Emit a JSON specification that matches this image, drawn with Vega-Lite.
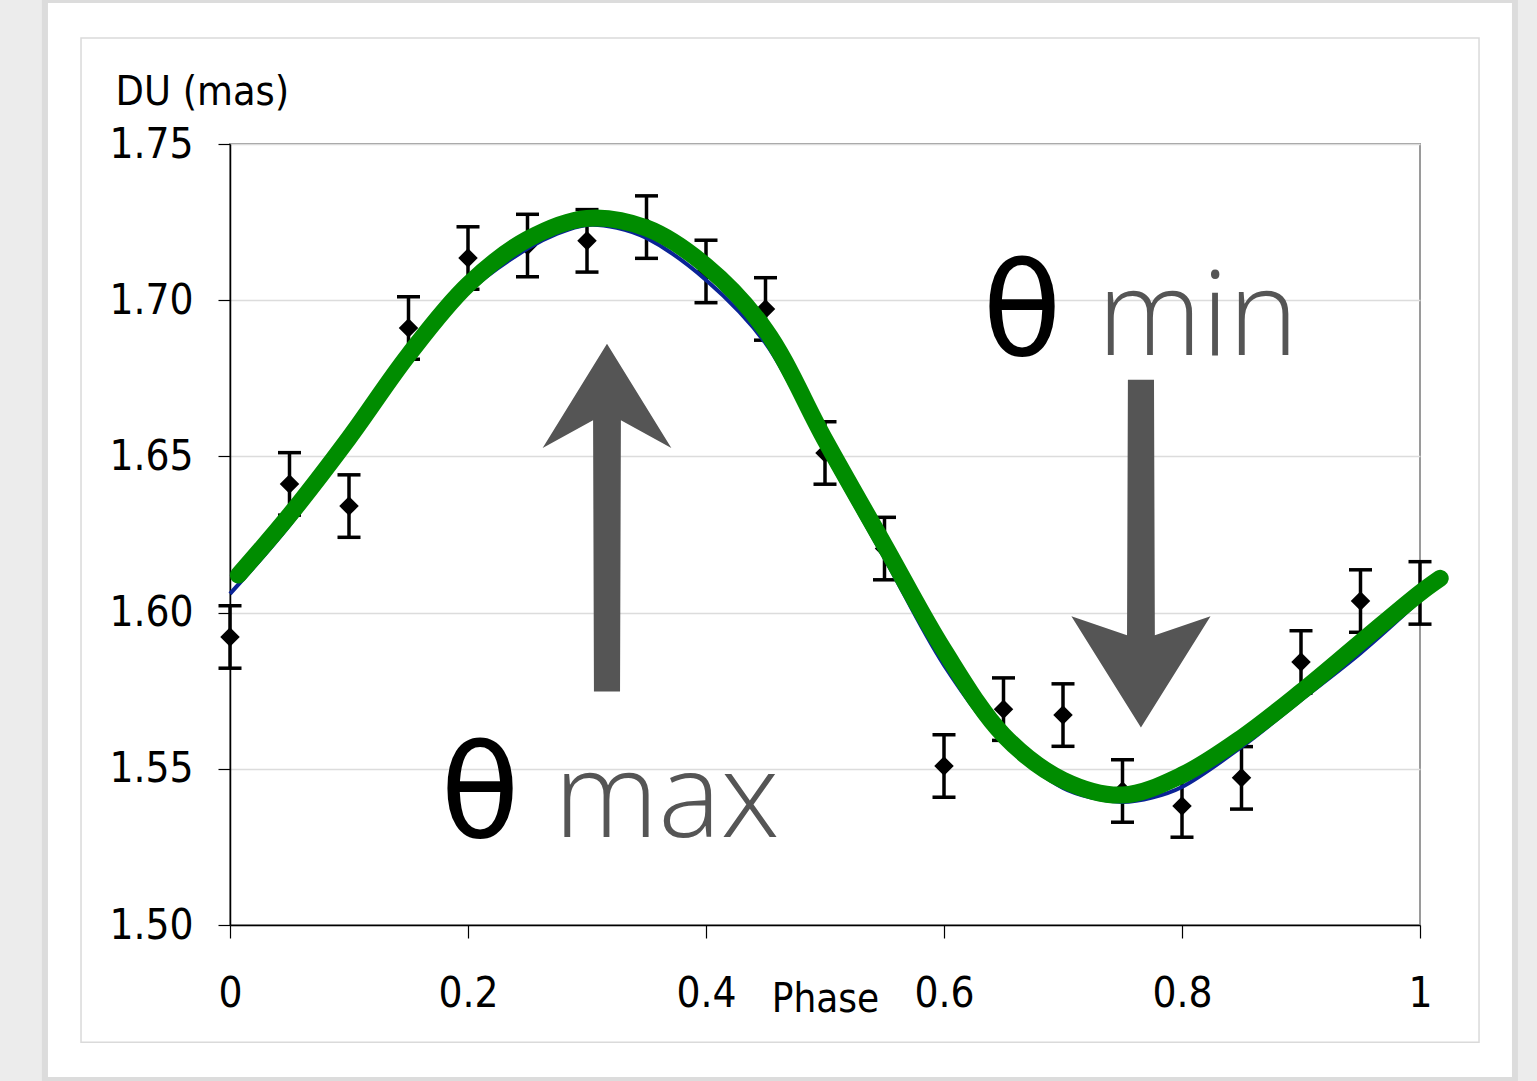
{
  "$schema": "https://vega.github.io/schema/vega-lite/v6.json",
  "width": 1190,
  "height": 781,
  "autosize": {"type": "none"},
  "padding": {"left": 230, "top": 144, "right": 117, "bottom": 156},
  "background": "#ffffff",
  "config": {
    "view": {"stroke": "#9a9a9a", "strokeWidth": 2},
    "font": "DejaVu Sans Condensed, DejaVu Sans"
  },
  "datasets": {
    "obs": [
      {"phase": 0.00, "du": 1.5922, "lo": 1.5822, "hi": 1.6022},
      {"phase": 0.05, "du": 1.6412, "lo": 1.6312, "hi": 1.6512},
      {"phase": 0.10, "du": 1.6341, "lo": 1.6241, "hi": 1.6441},
      {"phase": 0.15, "du": 1.6911, "lo": 1.6811, "hi": 1.7011},
      {"phase": 0.20, "du": 1.7135, "lo": 1.7035, "hi": 1.7235},
      {"phase": 0.25, "du": 1.7175, "lo": 1.7075, "hi": 1.7275},
      {"phase": 0.30, "du": 1.7190, "lo": 1.7090, "hi": 1.7290},
      {"phase": 0.35, "du": 1.7234, "lo": 1.7134, "hi": 1.7334},
      {"phase": 0.40, "du": 1.7092, "lo": 1.6992, "hi": 1.7192},
      {"phase": 0.45, "du": 1.6972, "lo": 1.6872, "hi": 1.7072},
      {"phase": 0.50, "du": 1.6511, "lo": 1.6411, "hi": 1.6611},
      {"phase": 0.55, "du": 1.6205, "lo": 1.6105, "hi": 1.6305},
      {"phase": 0.60, "du": 1.5509, "lo": 1.5409, "hi": 1.5609},
      {"phase": 0.65, "du": 1.5691, "lo": 1.5591, "hi": 1.5791},
      {"phase": 0.70, "du": 1.5672, "lo": 1.5572, "hi": 1.5772},
      {"phase": 0.75, "du": 1.5429, "lo": 1.5329, "hi": 1.5529},
      {"phase": 0.80, "du": 1.5381, "lo": 1.5281, "hi": 1.5481},
      {"phase": 0.85, "du": 1.5471, "lo": 1.5371, "hi": 1.5571},
      {"phase": 0.90, "du": 1.5842, "lo": 1.5742, "hi": 1.5942},
      {"phase": 0.95, "du": 1.6037, "lo": 1.5937, "hi": 1.6137},
      {"phase": 1.00, "du": 1.6063, "lo": 1.5963, "hi": 1.6163}
    ],
    "fit": [
      {"phase": 0.00, "du": 1.6060},
      {"phase": 0.05, "du": 1.6280},
      {"phase": 0.10, "du": 1.6537},
      {"phase": 0.15, "du": 1.6795},
      {"phase": 0.20, "du": 1.7025},
      {"phase": 0.25, "du": 1.7165},
      {"phase": 0.275, "du": 1.7213},
      {"phase": 0.30, "du": 1.7241},
      {"phase": 0.325, "du": 1.7232},
      {"phase": 0.35, "du": 1.7199},
      {"phase": 0.40, "du": 1.7065},
      {"phase": 0.45, "du": 1.6863},
      {"phase": 0.50, "du": 1.6514},
      {"phase": 0.55, "du": 1.6175},
      {"phase": 0.60, "du": 1.5832},
      {"phase": 0.65, "du": 1.5582},
      {"phase": 0.70, "du": 1.5439},
      {"phase": 0.725, "du": 1.5407},
      {"phase": 0.75, "du": 1.5394},
      {"phase": 0.775, "du": 1.5408},
      {"phase": 0.80, "du": 1.5442},
      {"phase": 0.85, "du": 1.5570},
      {"phase": 0.90, "du": 1.5720},
      {"phase": 0.95, "du": 1.5870},
      {"phase": 1.00, "du": 1.6040}
    ],
    "green": [
      {"phase": 0.007, "du": 1.6120},
      {"phase": 0.05, "du": 1.6312},
      {"phase": 0.10, "du": 1.6559},
      {"phase": 0.15, "du": 1.6825},
      {"phase": 0.20, "du": 1.7050},
      {"phase": 0.25, "du": 1.7195},
      {"phase": 0.30, "du": 1.7262},
      {"phase": 0.35, "du": 1.7231},
      {"phase": 0.40, "du": 1.7110},
      {"phase": 0.45, "du": 1.6905},
      {"phase": 0.50, "du": 1.6553},
      {"phase": 0.55, "du": 1.6216},
      {"phase": 0.60, "du": 1.5880},
      {"phase": 0.65, "du": 1.5608},
      {"phase": 0.70, "du": 1.5464},
      {"phase": 0.75, "du": 1.5416},
      {"phase": 0.80, "du": 1.5480},
      {"phase": 0.85, "du": 1.5599},
      {"phase": 0.90, "du": 1.5746},
      {"phase": 0.95, "du": 1.5905},
      {"phase": 1.00, "du": 1.6063},
      {"phase": 1.017, "du": 1.6110}
    ],
    "arrows": [
      {"phase": 0.3168, "du": 1.6304, "dir": "up"},
      {"phase": 0.7655, "du": 1.6189, "dir": "down"}
    ],
    "thetas": [
      {"phase": 0.2101, "du": 1.5282, "label": "θ"},
      {"phase": 0.6655, "du": 1.6825, "label": "θ"}
    ],
    "words": [
      {"phase": 0.2723, "du": 1.5282, "label": "max"},
      {"phase": 0.7290, "du": 1.6825, "label": "min"}
    ]
  },
  "layer": [
    {
      "data": {"values": [{}]},
      "mark": {"type": "rect", "fill": "transparent", "stroke": "#ececec", "strokeWidth": 100},
      "encoding": {
        "x": {"datum": -0.195, "type": "quantitative"},
        "x2": {"datum": 1.1193},
        "y": {"datum": 1.8111, "type": "quantitative"},
        "y2": {"datum": 1.4353}
      }
    },
    {
      "data": {"values": [{}]},
      "mark": {"type": "rect", "fill": "transparent", "stroke": "#d8d8d8", "strokeWidth": 6, "strokeOpacity": 0.8},
      "encoding": {
        "x": {"datum": -0.1555, "type": "quantitative"},
        "x2": {"datum": 1.0798},
        "y": {"datum": 1.7961, "type": "quantitative"},
        "y2": {"datum": 1.4504}
      }
    },
    {
      "data": {"values": [{}]},
      "mark": {"type": "rect", "fill": "transparent", "stroke": "#dadada", "strokeWidth": 1.5},
      "encoding": {
        "x": {"datum": -0.1252, "type": "quantitative"},
        "x2": {"datum": 1.0496},
        "y": {"datum": 1.7839, "type": "quantitative"},
        "y2": {"datum": 1.4625}
      }
    },
    {
      "data": {"name": "obs"},
      "mark": {"type": "rule", "color": "#000000", "strokeWidth": 3.5, "opacity": 1},
      "encoding": {
        "x": {"field": "phase", "type": "quantitative"},
        "y": {"field": "lo", "type": "quantitative"},
        "y2": {"field": "hi"}
      }
    },
    {
      "data": {"name": "obs"},
      "mark": {"type": "tick", "orient": "horizontal", "color": "#000000", "opacity": 1, "size": 23, "thickness": 3.5},
      "encoding": {
        "x": {"field": "phase", "type": "quantitative"},
        "y": {"field": "lo", "type": "quantitative"}
      }
    },
    {
      "data": {"name": "obs"},
      "mark": {"type": "tick", "orient": "horizontal", "color": "#000000", "opacity": 1, "size": 23, "thickness": 3.5},
      "encoding": {
        "x": {"field": "phase", "type": "quantitative"},
        "y": {"field": "hi", "type": "quantitative"}
      }
    },
    {
      "data": {"name": "obs"},
      "mark": {"type": "point", "shape": "diamond", "filled": true, "color": "#000000", "size": 380, "opacity": 1},
      "encoding": {
        "x": {
          "field": "phase",
          "type": "quantitative",
          "scale": {"domain": [0, 1], "nice": false, "zero": false},
          "title": "Phase",
          "axis": {
            "values": [0, 0.2, 0.4, 0.6, 0.8, 1],
            "format": "~g",
            "grid": false,
            "domainColor": "#000000",
            "domainWidth": 1.5,
            "tickColor": "#000000",
            "tickWidth": 1.2,
            "tickSize": 13,
            "labelFontSize": 42,
            "labelColor": "#000000",
            "labelBaseline": "alphabetic",
            "labelPadding": 68,
            "labelFlush": false,
            "labelOverlap": false,
            "titleFontSize": 40,
            "titleFontWeight": "normal",
            "titleColor": "#000000",
            "titleX": 595,
            "titleY": 86,
            "titleAlign": "center",
            "titleBaseline": "alphabetic"
          }
        },
        "y": {
          "field": "du",
          "type": "quantitative",
          "scale": {"domain": [1.5, 1.75], "nice": false, "zero": false},
          "title": "DU (mas)",
          "axis": {
            "values": [1.5, 1.55, 1.6, 1.65, 1.7, 1.75],
            "format": ".2f",
            "grid": true,
            "gridColor": "#dcdcdc",
            "gridWidth": 1.5,
            "domainColor": "#000000",
            "domainWidth": 1.5,
            "tickColor": "#000000",
            "tickWidth": 1.2,
            "tickSize": 12,
            "labelFontSize": 42,
            "labelColor": "#000000",
            "labelPadding": 25,
            "labelFlush": false,
            "labelOverlap": false,
            "titleFontSize": 41,
            "titleFontWeight": "normal",
            "titleColor": "#000000",
            "titleAngle": 0,
            "titleX": -115,
            "titleY": -40,
            "titleAlign": "left",
            "titleBaseline": "alphabetic"
          }
        }
      }
    },
    {
      "data": {"name": "fit"},
      "mark": {"type": "line", "color": "#0a2396", "strokeWidth": 4, "interpolate": "catmull-rom"},
      "encoding": {
        "x": {"field": "phase", "type": "quantitative"},
        "y": {"field": "du", "type": "quantitative"}
      }
    },
    {
      "data": {"name": "green"},
      "mark": {"type": "line", "color": "#008c00", "strokeWidth": 17, "strokeCap": "round", "strokeJoin": "round", "interpolate": "catmull-rom"},
      "encoding": {
        "x": {"field": "phase", "type": "quantitative"},
        "y": {"field": "du", "type": "quantitative"}
      }
    },
    {
      "data": {"name": "arrows"},
      "mark": {"type": "point", "filled": true, "color": "#555555", "opacity": 1, "size": 121000},
      "encoding": {
        "x": {"field": "phase", "type": "quantitative"},
        "y": {"field": "du", "type": "quantitative"},
        "shape": {
          "field": "dir",
          "type": "nominal",
          "scale": {
            "domain": ["up", "down"],
            "range": [
              "M0,-1L0.37,-0.4L0.08,-0.56L0.075,1L-0.075,1L-0.08,-0.56L-0.37,-0.4Z",
              "M0,1L0.4,0.36L0.08,0.47L0.075,-1L-0.075,-1L-0.08,0.47L-0.4,0.36Z"
            ]
          },
          "legend": null
        }
      }
    },
    {
      "data": {"name": "thetas"},
      "mark": {"type": "text", "font": "DejaVu Sans", "fontSize": 130, "color": "#000000", "align": "center", "baseline": "alphabetic"},
      "encoding": {
        "x": {"field": "phase", "type": "quantitative"},
        "y": {"field": "du", "type": "quantitative"},
        "text": {"field": "label"}
      }
    },
    {
      "data": {"name": "words"},
      "mark": {"type": "text", "font": "Open Sans", "fontWeight": 300, "fontSize": 118, "color": "#555555", "align": "left", "baseline": "alphabetic"},
      "encoding": {
        "x": {"field": "phase", "type": "quantitative"},
        "y": {"field": "du", "type": "quantitative"},
        "text": {"field": "label"}
      }
    }
  ]
}
